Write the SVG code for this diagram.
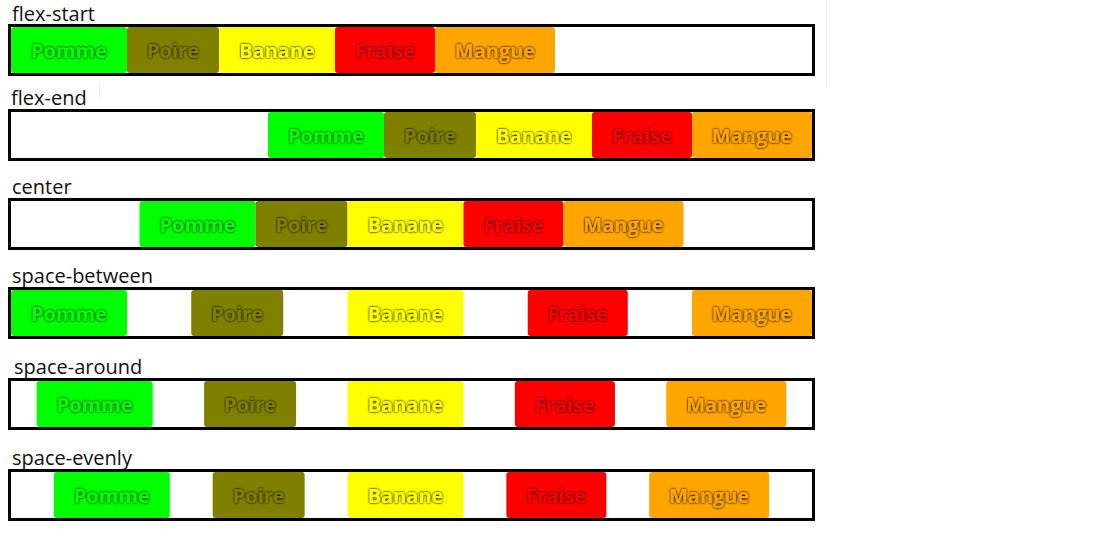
<svg xmlns="http://www.w3.org/2000/svg" width="1096" height="536" viewBox="0 0 1096 536">
<style>
.lbl{font-family:"Open Sans","Liberation Sans",sans-serif;font-size:20px;fill:#111}
.box{fill:#fff;stroke:#000;stroke-width:3}
.it text{font-family:"Open Sans","Liberation Sans",sans-serif;font-size:20px;font-weight:bold;text-anchor:middle;filter:url(#halo)}
.pomme rect,.pomme text{fill:#00ff00}
.poire rect,.poire text{fill:#808000}
.banane rect,.banane text{fill:#ffff00}
.fraise rect,.fraise text{fill:#ff0000}
.mangue rect,.mangue text{fill:#ffa500}
.art{stroke:#ececec;stroke-width:1;fill:none}
</style>
<defs>
<filter id="halo" x="-20%" y="-50%" width="140%" height="200%">
<feGaussianBlur in="SourceAlpha" stdDeviation="1.3" result="b"/>
<feComponentTransfer in="b" result="bb"><feFuncA type="linear" slope="1.8"/></feComponentTransfer>
<feFlood flood-color="#000" flood-opacity="0.75" result="f"/>
<feComposite in="f" in2="bb" operator="in" result="sh"/>
<feMerge><feMergeNode in="sh"/><feMergeNode in="SourceGraphic"/></feMerge>
</filter>
</defs>
<rect width="1096" height="536" fill="#fff"/>
<line class="art" x1="826.5" y1="0" x2="826.5" y2="88"/>
<line class="art" x1="99.5" y1="84" x2="99.5" y2="98"/>

<g id="row-flex-start">
<text class="lbl" x="12" y="21">flex-start</text>
<rect class="box" x="9.5" y="25.5" width="804" height="49"/>
<g id="fs-pomme" class="it pomme"><rect x="11" y="27" width="116" height="46" rx="3"/><text x="69" y="57.5">Pomme</text></g>
<g id="fs-poire" class="it poire"><rect x="127" y="27" width="92" height="46" rx="3"/><text x="173" y="57.5">Poire</text></g>
<g id="fs-banane" class="it banane"><rect x="219" y="27" width="116" height="46" rx="3"/><text x="277" y="57.5">Banane</text></g>
<g id="fs-fraise" class="it fraise"><rect x="335" y="27" width="100" height="46" rx="3"/><text x="385" y="57.5">Fraise</text></g>
<g id="fs-mangue" class="it mangue"><rect x="435" y="27" width="120" height="46" rx="3"/><text x="495" y="57.5">Mangue</text></g>
</g>

<g id="row-flex-end">
<text class="lbl" x="11" y="105">flex-end</text>
<rect class="box" x="9.5" y="110.5" width="804" height="49"/>
<g id="fe-pomme" class="it pomme"><rect x="268" y="112" width="116" height="46" rx="3"/><text x="326" y="142.5">Pomme</text></g>
<g id="fe-poire" class="it poire"><rect x="384" y="112" width="92" height="46" rx="3"/><text x="430" y="142.5">Poire</text></g>
<g id="fe-banane" class="it banane"><rect x="476" y="112" width="116" height="46" rx="3"/><text x="534" y="142.5">Banane</text></g>
<g id="fe-fraise" class="it fraise"><rect x="592" y="112" width="100" height="46" rx="3"/><text x="642" y="142.5">Fraise</text></g>
<g id="fe-mangue" class="it mangue"><rect x="692" y="112" width="120" height="46" rx="3"/><text x="752" y="142.5">Mangue</text></g>
</g>

<g id="row-center">
<text class="lbl" x="12" y="194">center</text>
<rect class="box" x="9.5" y="199.5" width="804" height="49"/>
<g id="c-pomme" class="it pomme"><rect x="139.5" y="201" width="116" height="46" rx="3"/><text x="197.5" y="231.5">Pomme</text></g>
<g id="c-poire" class="it poire"><rect x="255.5" y="201" width="92" height="46" rx="3"/><text x="301.5" y="231.5">Poire</text></g>
<g id="c-banane" class="it banane"><rect x="347.5" y="201" width="116" height="46" rx="3"/><text x="405.5" y="231.5">Banane</text></g>
<g id="c-fraise" class="it fraise"><rect x="463.5" y="201" width="100" height="46" rx="3"/><text x="513.5" y="231.5">Fraise</text></g>
<g id="c-mangue" class="it mangue"><rect x="563.5" y="201" width="120" height="46" rx="3"/><text x="623.5" y="231.5">Mangue</text></g>
</g>

<g id="row-space-between">
<text class="lbl" x="12" y="283">space-between</text>
<rect class="box" x="9.5" y="288.5" width="804" height="49"/>
<g id="sb-pomme" class="it pomme"><rect x="11" y="290" width="116" height="46" rx="3"/><text x="69" y="320.5">Pomme</text></g>
<g id="sb-poire" class="it poire"><rect x="191.25" y="290" width="92" height="46" rx="3"/><text x="237.25" y="320.5">Poire</text></g>
<g id="sb-banane" class="it banane"><rect x="347.5" y="290" width="116" height="46" rx="3"/><text x="405.5" y="320.5">Banane</text></g>
<g id="sb-fraise" class="it fraise"><rect x="527.75" y="290" width="100" height="46" rx="3"/><text x="577.75" y="320.5">Fraise</text></g>
<g id="sb-mangue" class="it mangue"><rect x="692" y="290" width="120" height="46" rx="3"/><text x="752" y="320.5">Mangue</text></g>
</g>

<g id="row-space-around">
<text class="lbl" x="14" y="374">space-around</text>
<rect class="box" x="9.5" y="379.5" width="804" height="49"/>
<g id="sa-pomme" class="it pomme"><rect x="36.7" y="381" width="116" height="46" rx="3"/><text x="94.7" y="411.5">Pomme</text></g>
<g id="sa-poire" class="it poire"><rect x="204.1" y="381" width="92" height="46" rx="3"/><text x="250.1" y="411.5">Poire</text></g>
<g id="sa-banane" class="it banane"><rect x="347.5" y="381" width="116" height="46" rx="3"/><text x="405.5" y="411.5">Banane</text></g>
<g id="sa-fraise" class="it fraise"><rect x="514.9" y="381" width="100" height="46" rx="3"/><text x="564.9" y="411.5">Fraise</text></g>
<g id="sa-mangue" class="it mangue"><rect x="666.3" y="381" width="120" height="46" rx="3"/><text x="726.3" y="411.5">Mangue</text></g>
</g>

<g id="row-space-evenly">
<text class="lbl" x="12" y="465">space-evenly</text>
<rect class="box" x="9.5" y="470.5" width="804" height="49"/>
<g id="se-pomme" class="it pomme"><rect x="53.83" y="472" width="116" height="46" rx="3"/><text x="111.83" y="502.5">Pomme</text></g>
<g id="se-poire" class="it poire"><rect x="212.67" y="472" width="92" height="46" rx="3"/><text x="258.67" y="502.5">Poire</text></g>
<g id="se-banane" class="it banane"><rect x="347.5" y="472" width="116" height="46" rx="3"/><text x="405.5" y="502.5">Banane</text></g>
<g id="se-fraise" class="it fraise"><rect x="506.33" y="472" width="100" height="46" rx="3"/><text x="556.33" y="502.5">Fraise</text></g>
<g id="se-mangue" class="it mangue"><rect x="649.17" y="472" width="120" height="46" rx="3"/><text x="709.17" y="502.5">Mangue</text></g>
</g>
</svg>
